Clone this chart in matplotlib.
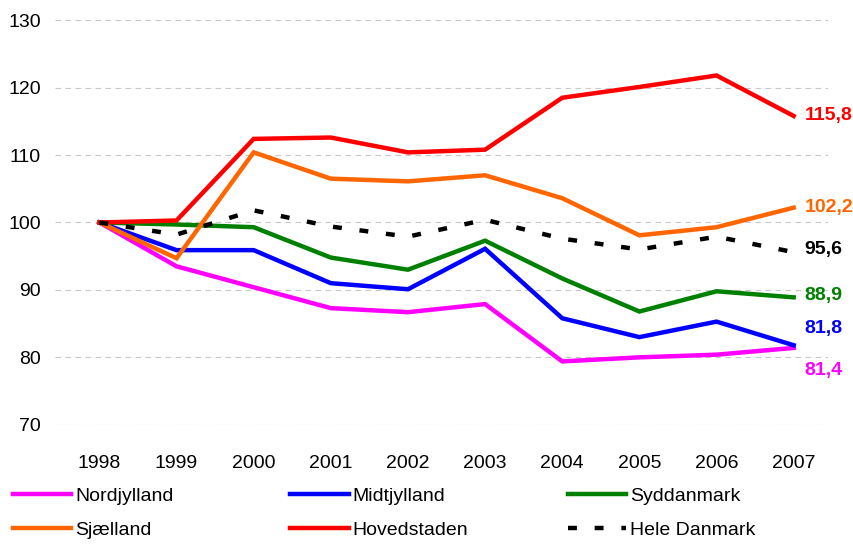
import matplotlib.pyplot as plt
from matplotlib import font_manager

# font: narrow sans if available
names = {f.name for f in font_manager.fontManager.ttflist}
fam = "Liberation Sans Narrow" if "Liberation Sans Narrow" in names else "Liberation Sans"
plt.rcParams["font.family"] = [fam, "DejaVu Sans"]

years = [1998, 1999, 2000, 2001, 2002, 2003, 2004, 2005, 2006, 2007]

nordjylland = [100, 93.5, 90.4, 87.3, 86.7, 87.9, 79.4, 80.0, 80.4, 81.4]
midtjylland = [100, 95.9, 95.9, 91.0, 90.1, 96.1, 85.8, 83.0, 85.3, 81.8]
syddanmark = [100, 99.7, 99.3, 94.8, 93.0, 97.3, 91.7, 86.8, 89.8, 88.9]
sjaelland = [100, 94.7, 110.4, 106.5, 106.1, 107.0, 103.6, 98.1, 99.3, 102.2]
hovedstaden = [100, 100.3, 112.4, 112.6, 110.4, 110.8, 118.5, 120.1, 121.8, 115.8]
hele_danmark = [100, 98.2, 101.8, 99.4, 97.9, 100.4, 97.6, 96.0, 97.9, 95.6]

series = [
    ("Nordjylland", nordjylland, "#FF00FF", -16),
    ("Midtjylland", midtjylland, "#0000FF", 12),
    ("Syddanmark", syddanmark, "#008000", 1),
    ("Sjælland", sjaelland, "#FF6600", 0),
    ("Hovedstaden", hovedstaden, "#FF0000", 0),
    ("Hele Danmark", hele_danmark, "black", 2),
]

fig = plt.figure(figsize=(8.54, 5.46), dpi=100)
ax = fig.add_axes([0.064, 0.222, 0.906, 0.741])

handles = {}
for name, vals, col, dy in series:
    if name == "Hele Danmark":
        ln, = ax.plot(years, vals, color=col, lw=3.2, dashes=(2.0, 4.0))
    else:
        ln, = ax.plot(years, vals, color=col, lw=3.2, solid_joinstyle="miter")
    handles[name] = ln
    ax.annotate(f"{vals[-1]:.1f}".replace(".", ","), (years[-1], vals[-1]),
                xytext=(8, dy), textcoords="offset points", va="center",
                ha="left", color=col, fontsize=14, fontweight="bold",
                annotation_clip=False)

ax.set_xlim(1997.42, 2007.45)
ax.set_ylim(70, 130)
ax.set_yticks(range(70, 131, 10))
ax.set_xticks(years)
ax.tick_params(length=0, labelsize=14)
ax.tick_params(axis="x", pad=22)
ax.tick_params(axis="y", pad=10)
ax.grid(axis="y", color="#c8c8c8", linestyle=(0, (5, 4)), lw=0.8)
ax.set_axisbelow(True)
for s in ax.spines.values():
    s.set_visible(False)

# legend, three columns of two rows
cols = [("Nordjylland", "Sjælland"), ("Midtjylland", "Hovedstaden"),
        ("Syddanmark", "Hele Danmark")]
xs = [0.015, 0.34, 0.665]
for x, pair in zip(xs, cols):
    leg = fig.legend([handles[p] for p in pair], pair, loc="upper left",
                     bbox_to_anchor=(x, 0.108), frameon=False, fontsize=14,
                     handlelength=3.0, handletextpad=0.2, labelspacing=0.85,
                     borderpad=0, borderaxespad=0)

fig.savefig("out.png", dpi=100)
